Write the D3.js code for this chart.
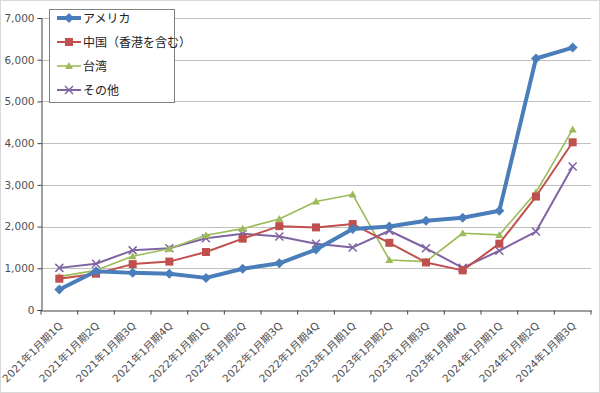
<!DOCTYPE html>
<html><head><meta charset="utf-8">
<script src="https://cdn.jsdelivr.net/npm/d3@7"></script>
<style>body{margin:0;background:#fff}svg{display:block}</style>
</head><body>
<svg id="c" width="600" height="393"></svg>
<script>
const categories = ["2021年1月期1Q","2021年1月期2Q","2021年1月期3Q","2021年1月期4Q","2022年1月期1Q","2022年1月期2Q","2022年1月期3Q","2022年1月期4Q","2023年1月期1Q","2023年1月期2Q","2023年1月期3Q","2023年1月期4Q","2024年1月期1Q","2024年1月期2Q","2024年1月期3Q"];
const usa    = [490, 930, 890, 870, 770, 990, 1120, 1450, 1940, 2000, 2140, 2210, 2380, 6030, 6290];
const china  = [750, 870, 1100, 1160, 1390, 1710, 2010, 1980, 2060, 1610, 1140, 950, 1590, 2720, 4020];
const taiwan = [800, 950, 1290, 1470, 1790, 1950, 2180, 2600, 2770, 1200, 1160, 1840, 1800, 2820, 4330];
const other  = [1010, 1110, 1430, 1480, 1720, 1830, 1760, 1590, 1500, 1900, 1480, 1010, 1420, 1880, 3440];
const seriesNames = ["アメリカ","中国（香港を含む）","台湾","その他"];
const yTicks = [0,1000,2000,3000,4000,5000,6000,7000];

const series = [
  {name: seriesNames[0], values: usa, color: "#4a7ebb", width: 4, marker: "diamond"},
  {name: seriesNames[1], values: china, color: "#c0504d", width: 2, marker: "square"},
  {name: seriesNames[2], values: taiwan, color: "#9bbb59", width: 1.6, marker: "triangle"},
  {name: seriesNames[3], values: other, color: "#8064a2", width: 2, marker: "x"}
];

const svg = d3.select("#c");
const font = "'DejaVu Sans','Noto Sans CJK JP',sans-serif";
svg.append("rect").attr("x",0.5).attr("y",0.5).attr("width",599).attr("height",392)
  .attr("fill","#fff").attr("stroke","#d9d9d9");

const m = {l:41, r:591, t:18, b:310};
const x = d3.scaleBand().domain(categories).range([m.l, m.r]);
const y = d3.scaleLinear().domain([0,7000]).range([m.b, m.t]);

// gridlines
svg.append("g").selectAll("line").data(yTicks.filter(d=>d>0)).join("line")
  .attr("x1", m.l).attr("x2", m.r).attr("y1", d=>Math.round(y(d))+0.5).attr("y2", d=>Math.round(y(d))+0.5)
  .attr("stroke","#c0c0c0").attr("stroke-width",1);

// y axis
const ya = svg.append("g").attr("transform",`translate(${m.l+0.5},0)`)
  .call(d3.axisLeft(y).tickValues(yTicks).tickFormat(d3.format(",")).tickSize(4).tickPadding(3));
ya.select(".domain").attr("stroke","#404040");
ya.selectAll(".tick line").attr("stroke","#404040");
ya.selectAll("text").attr("font-family",font).attr("font-size",10.5).attr("fill","#505050");

// x axis
const xa = svg.append("g").attr("transform",`translate(0,${m.b+0.5})`)
  .call(d3.axisBottom(x).tickSize(0).tickFormat(""));
xa.select(".domain").attr("stroke","#404040");
const bounds = categories.map((c,i)=>x(c)).concat([m.r]);
xa.append("g").selectAll("line").data(bounds).join("line")
  .attr("x1",d=>d).attr("x2",d=>d).attr("y1",0).attr("y2",4).attr("stroke","#404040");
xa.append("g").selectAll("text").data(categories).join("text")
  .attr("transform", d=>`translate(${x(d)+x.bandwidth()/2+4},${16}) rotate(-45)`)
  .attr("text-anchor","end").attr("font-family",font).attr("font-size",10.5).attr("fill","#505050")
  .text(d=>d);

const line = d3.line().x((d,i)=>x(categories[i])+x.bandwidth()/2).y(d=>y(d));

function drawMarker(g, type, color, cx, cy, s) {
  if (type==="diamond") {
    g.append("path").attr("d",`M${cx},${cy-5}L${cx+5},${cy}L${cx},${cy+5}L${cx-5},${cy}Z`).attr("fill",color);
  } else if (type==="square") {
    g.append("rect").attr("x",cx-4).attr("y",cy-4).attr("width",8).attr("height",8).attr("fill",color);
  } else if (type==="triangle") {
    g.append("path").attr("d",`M${cx},${cy-4}L${cx+4},${cy+3}L${cx-4},${cy+3}Z`).attr("fill",color);
  } else {
    g.append("path").attr("d",`M${cx-4},${cy-4}L${cx+4},${cy+4}M${cx-4},${cy+4}L${cx+4},${cy-4}`).attr("stroke",color).attr("stroke-width",1.5);
  }
}

// draw in reverse order so USA on top
[...series].reverse().forEach(s=>{
  const g = svg.append("g");
  g.append("path").datum(s.values).attr("d",line).attr("fill","none").attr("stroke",s.color)
    .attr("stroke-width",s.width).attr("stroke-linejoin","round");
  s.values.forEach((v,i)=>drawMarker(g, s.marker, s.color, x(categories[i])+x.bandwidth()/2, y(v)));
});

// legend
const lg = svg.append("g");
lg.append("rect").attr("x",49.5).attr("y",9.5).attr("width",125).attr("height",93)
  .attr("fill","#fff").attr("stroke","#808080");
series.forEach((s,i)=>{
  const cy = 18 + i*24;
  const g = lg.append("g");
  g.append("line").attr("x1",57).attr("x2",81).attr("y1",cy).attr("y2",cy).attr("stroke",s.color).attr("stroke-width",s.width);
  drawMarker(g, s.marker, s.color, 69, cy);
  g.append("text").attr("x",83).attr("y",cy+4.5).attr("font-family",font).attr("font-size",12).attr("fill","#222").text(s.name);
});
</script>
</body></html>
